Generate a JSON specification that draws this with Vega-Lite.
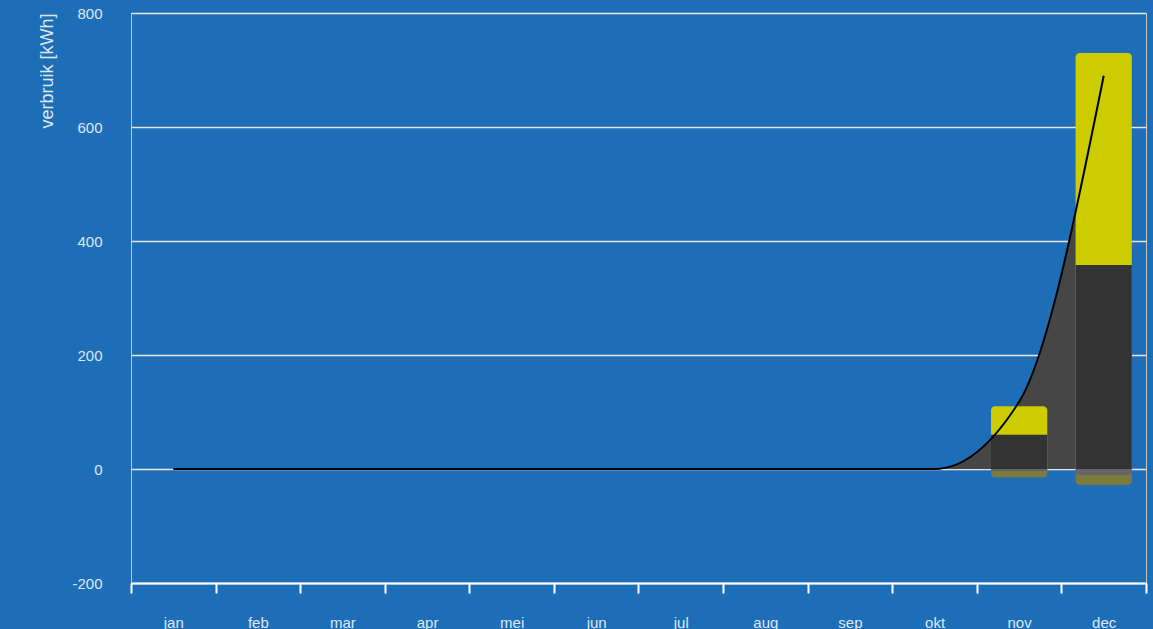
{
  "$schema": "https://vega.github.io/schema/vega-lite/v6.json",
  "width": 1015,
  "height": 570,
  "autosize": {"type": "none"},
  "padding": {"left": 131, "top": 13, "right": 7, "bottom": 46},
  "background": "#1e6eb7",
  "datasets": {
    "lijn": [
      {"maand": "jan", "verbruik": 0},
      {"maand": "feb", "verbruik": 0},
      {"maand": "mar", "verbruik": 0},
      {"maand": "apr", "verbruik": 0},
      {"maand": "mei", "verbruik": 0},
      {"maand": "jun", "verbruik": 0},
      {"maand": "jul", "verbruik": 0},
      {"maand": "aug", "verbruik": 0},
      {"maand": "sep", "verbruik": 0},
      {"maand": "okt", "verbruik": 0},
      {"maand": "nov", "verbruik": 118},
      {"maand": "dec", "verbruik": 690}
    ],
    "balken": [
      {"maand": "nov", "net": 60, "totaal": 110, "grijs": -4, "olijf": -15},
      {"maand": "dec", "net": 358, "totaal": 730, "grijs": -10.5, "olijf": -28}
    ]
  },
  "layer": [
    {
      "data": {"name": "lijn"},
      "mark": {"type": "area", "interpolate": "monotone", "color": "#464646"},
      "encoding": {
        "x": {"field": "maand", "type": "ordinal", "bandPosition": 0.5,
              "scale": {"domain": ["jan","feb","mar","apr","mei","jun","jul","aug","sep","okt","nov","dec"], "paddingInner": 0, "paddingOuter": 0},
              "axis": {"title": null}},
        "y": {"field": "verbruik", "type": "quantitative", "scale": {"domain": [-200, 800], "nice": false}, "title": "verbruik [kWh]",
              "axis": {"values": [-200, 0, 200, 400, 600, 800], "labelExpr": "toString(datum.value)"}},
        "y2": {"datum": 0}
      }
    },
    {
      "data": {"name": "balken"},
      "mark": {"type": "bar", "color": "#cccc00", "width": {"band": 0.665}, "cornerRadiusTopLeft": 4, "cornerRadiusTopRight": 4},
      "encoding": {
        "x": {"field": "maand", "type": "ordinal",
              "scale": {"domain": ["jan","feb","mar","apr","mei","jun","jul","aug","sep","okt","nov","dec"], "paddingInner": 0, "paddingOuter": 0},
              "axis": {"title": null}},
        "y": {"field": "totaal", "type": "quantitative", "title": "verbruik [kWh]",
              "axis": {"values": [-200, 0, 200, 400, 600, 800], "labelExpr": "toString(datum.value)"}},
        "y2": {"datum": 0}
      }
    },
    {
      "data": {"name": "balken"},
      "mark": {"type": "bar", "color": "#333333", "width": {"band": 0.665}},
      "encoding": {
        "x": {"field": "maand", "type": "ordinal",
              "scale": {"domain": ["jan","feb","mar","apr","mei","jun","jul","aug","sep","okt","nov","dec"], "paddingInner": 0, "paddingOuter": 0},
              "axis": {"title": null}},
        "y": {"field": "net", "type": "quantitative", "title": "verbruik [kWh]",
              "axis": {"values": [-200, 0, 200, 400, 600, 800], "labelExpr": "toString(datum.value)"}},
        "y2": {"datum": 0}
      }
    },
    {
      "data": {"name": "balken"},
      "mark": {"type": "bar", "color": "#7b7b3b", "width": {"band": 0.665}, "cornerRadiusBottomLeft": 4, "cornerRadiusBottomRight": 4},
      "encoding": {
        "x": {"field": "maand", "type": "ordinal",
              "scale": {"domain": ["jan","feb","mar","apr","mei","jun","jul","aug","sep","okt","nov","dec"], "paddingInner": 0, "paddingOuter": 0},
              "axis": {"title": null}},
        "y": {"field": "olijf", "type": "quantitative", "title": "verbruik [kWh]",
              "axis": {"values": [-200, 0, 200, 400, 600, 800], "labelExpr": "toString(datum.value)"}},
        "y2": {"datum": 0}
      }
    },
    {
      "data": {"name": "balken"},
      "mark": {"type": "bar", "color": "#666666", "width": {"band": 0.665}},
      "encoding": {
        "x": {"field": "maand", "type": "ordinal",
              "scale": {"domain": ["jan","feb","mar","apr","mei","jun","jul","aug","sep","okt","nov","dec"], "paddingInner": 0, "paddingOuter": 0},
              "axis": {"title": null}},
        "y": {"field": "grijs", "type": "quantitative", "title": "verbruik [kWh]",
              "axis": {"values": [-200, 0, 200, 400, 600, 800], "labelExpr": "toString(datum.value)"}},
        "y2": {"datum": 0}
      }
    },
    {
      "data": {"name": "lijn"},
      "mark": {"type": "line", "interpolate": "monotone", "color": "#000000", "strokeWidth": 2},
      "encoding": {
        "x": {"field": "maand", "type": "ordinal", "bandPosition": 0.5,
              "scale": {"domain": ["jan","feb","mar","apr","mei","jun","jul","aug","sep","okt","nov","dec"], "paddingInner": 0, "paddingOuter": 0},
              "axis": {"title": null}},
        "y": {"field": "verbruik", "type": "quantitative", "title": "verbruik [kWh]",
              "axis": {"values": [-200, 0, 200, 400, 600, 800], "labelExpr": "toString(datum.value)"}}
      }
    }
  ],
  "config": {
    "view": {"stroke": "#c8c8c8", "strokeWidth": 1},
    "axis": {
      "labelFont": "Liberation Sans",
      "labelFontSize": 15,
      "labelColor": "#dde7f2",
      "titleFont": "Liberation Sans",
      "titleColor": "#dde7f2"
    },
    "axisY": {
      "grid": true,
      "gridColor": "#e6e6e6",
      "gridWidth": 1.5,
      "gridOpacity": 1,
      "domain": false,
      "ticks": false,
      "tickSize": 0,
      "labelPadding": 29,
      "titleFontSize": 18,
      "titleFontWeight": "normal",
      "titleAngle": -90,
      "titleX": -84,
      "titleY": 0,
      "titleAlign": "right",
      "titleBaseline": "middle"
    },
    "axisX": {
      "grid": false,
      "domainColor": "#ffffff",
      "domainWidth": 2,
      "tickColor": "#ffffff",
      "tickWidth": 2,
      "tickSize": 10,
      "tickBand": "extent",
      "labelAngle": 0,
      "labelPadding": 22,
      "labelFontSize": 15
    }
  }
}
